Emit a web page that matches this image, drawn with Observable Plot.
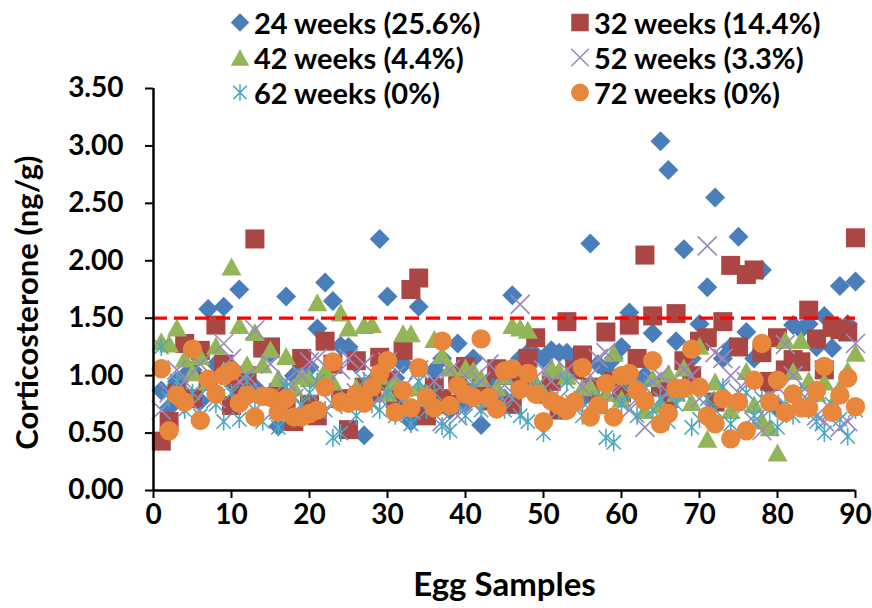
<!DOCTYPE html>
<html><head><meta charset="utf-8">
<script src="https://cdn.jsdelivr.net/npm/d3@7"></script>
<script src="https://cdn.jsdelivr.net/npm/@observablehq/plot@0.6"></script>
<style>
body{margin:0;background:#fff;font-family:Lato,sans-serif;}
#wrap{position:relative;width:872px;height:608px;overflow:hidden;}
#legend{position:absolute;left:0;top:0;width:872px;height:110px;pointer-events:none;}
.item{position:absolute;display:flex;align-items:center;font-weight:700;font-size:29px;color:#000;white-space:nowrap;line-height:1;transform:translateY(-50%);}
.item svg{margin-right:2px;}
</style></head><body><div id="wrap"><div id="legend"></div></div>
<script>
const samples = d3.range(1, 91);
const seriesNames = ["24 weeks (25.6%)", "32 weeks (14.4%)", "42 weeks (4.4%)", "52 weeks (3.3%)", "62 weeks (0%)", "72 weeks (0%)"];
const w24 = [0.87,0.72,0.95,1.00,1.05,0.78,1.58,1.10,1.60,0.95,1.75,1.05,0.90,1.25,1.20,0.56,1.69,1.00,1.08,1.07,1.41,1.81,1.65,1.26,1.25,1.10,0.48,0.95,2.19,1.69,0.98,1.10,0.60,1.60,0.85,1.05,1.15,0.70,1.28,0.75,1.15,0.57,0.95,1.05,0.80,1.70,1.15,1.20,1.18,1.15,1.22,1.20,1.20,1.17,0.80,2.15,1.10,1.05,1.15,1.25,1.55,0.95,1.00,1.37,3.04,2.79,1.30,2.10,1.15,1.45,1.77,2.55,1.15,1.25,2.21,1.38,1.15,1.92,0.90,0.72,1.05,1.44,1.40,1.45,1.25,1.52,1.24,1.78,1.45,1.82];
const w32 = [0.43,0.60,0.85,1.28,0.80,1.22,0.95,1.44,1.10,0.74,0.90,1.00,2.19,1.24,1.25,0.85,0.70,0.60,1.15,0.75,0.65,1.30,1.10,0.80,0.53,1.13,0.90,0.85,1.16,0.95,0.80,1.22,1.75,1.85,0.65,0.90,0.80,0.75,1.00,1.08,0.85,0.90,0.78,1.06,1.00,0.75,0.95,1.15,1.33,0.84,0.95,0.70,1.47,1.05,1.18,0.90,0.75,1.38,0.95,0.85,1.44,1.15,2.05,1.52,0.90,0.80,1.54,1.13,1.00,1.30,1.33,0.77,1.47,1.96,1.25,1.88,1.92,1.20,0.95,1.33,1.05,1.14,1.12,1.57,1.32,1.05,1.42,1.40,1.38,2.20];
const w42 = [1.30,1.28,1.42,1.15,1.03,1.17,0.95,1.26,1.05,1.95,1.44,1.10,1.38,1.10,1.23,0.98,1.17,0.90,1.00,0.98,1.64,1.05,0.95,1.55,1.42,0.90,1.44,1.45,1.00,0.85,0.95,1.37,1.37,0.90,0.85,1.32,1.18,1.07,0.95,1.07,1.05,0.98,0.80,0.90,1.00,1.44,1.42,1.40,0.95,0.85,1.07,1.05,1.00,0.80,0.90,0.91,0.75,0.85,1.20,0.80,1.00,0.88,0.70,0.98,0.75,1.02,0.85,1.07,0.77,1.26,0.45,0.95,0.85,0.70,0.80,1.04,0.75,0.61,0.55,0.33,1.31,1.04,1.31,0.96,0.85,0.95,0.75,0.90,1.05,1.20];
const w52 = [0.70,0.85,1.05,0.95,0.75,1.10,0.90,0.80,1.28,1.15,0.95,1.00,1.40,0.85,1.10,0.70,0.95,0.80,1.00,1.12,1.15,0.90,0.75,1.05,1.15,0.85,1.10,0.95,0.80,1.12,1.00,0.90,0.70,1.05,0.80,0.95,0.60,1.05,0.65,1.00,0.75,0.95,1.10,0.85,1.00,0.80,1.62,1.00,0.90,1.05,0.95,0.80,1.05,0.75,0.90,1.00,1.15,1.20,0.85,0.95,0.70,0.80,0.55,0.95,1.00,0.85,0.90,1.05,1.00,0.80,2.13,1.20,1.15,1.00,0.85,0.95,0.60,0.52,0.75,0.90,1.27,1.00,0.75,0.85,0.65,0.60,0.70,0.55,0.60,1.28];
const w62 = [1.25,0.80,0.95,0.70,0.85,0.65,0.90,0.75,0.60,0.85,0.62,0.95,0.70,0.60,0.80,0.55,0.90,0.65,0.75,0.85,0.95,0.70,0.46,0.50,0.80,0.65,0.95,0.75,0.70,0.85,0.65,0.80,0.58,0.95,0.70,0.85,0.56,0.52,0.75,0.65,0.90,0.70,0.80,0.75,0.70,0.85,0.65,0.60,0.90,0.50,0.80,0.70,0.95,0.75,0.65,0.70,0.80,0.46,0.42,0.75,0.85,0.65,0.90,0.70,0.80,0.60,0.75,0.85,0.55,0.62,0.80,0.70,0.90,0.58,0.75,0.85,0.65,0.80,0.70,0.55,0.75,0.65,0.85,0.70,0.60,0.50,0.75,0.62,0.47,0.70];
const w72 = [1.06,0.52,0.83,0.77,1.23,0.61,0.97,0.84,1.00,1.04,0.76,0.83,0.64,0.82,0.81,0.68,0.80,0.64,0.64,0.67,0.70,0.90,1.12,0.77,0.76,0.84,0.76,0.90,1.02,1.13,0.68,0.87,0.72,1.07,0.81,0.72,1.30,0.74,0.91,0.84,0.81,1.32,0.81,0.71,1.04,1.06,0.88,1.02,0.84,0.60,0.78,0.74,0.70,0.77,1.07,0.64,0.74,0.93,0.64,1.00,1.02,0.87,0.78,1.13,0.58,0.67,0.89,0.89,1.23,0.90,0.65,0.58,0.80,0.45,0.77,0.52,0.96,1.28,0.77,0.96,0.68,0.84,0.72,0.72,0.87,1.08,0.68,0.83,0.98,0.73];
const threshold = 1.5;
const xTicks = d3.range(0, 91, 10);
const yTicks = [0, 0.5, 1, 1.5, 2, 2.5, 3, 3.5];

function mk(fn){ return {draw(c, size){ fn(c, Math.sqrt(size / Math.PI)); }}; }
const diamondSym = mk((c,h)=>{c.moveTo(0,-h);c.lineTo(h,0);c.lineTo(0,h);c.lineTo(-h,0);c.closePath();});
const squareSym = mk((c,h)=>{c.moveTo(-h,-h);c.lineTo(h,-h);c.lineTo(h,h);c.lineTo(-h,h);c.closePath();});
const triSym = mk((c,h)=>{c.moveTo(0,-0.9*h);c.lineTo(h,0.9*h);c.lineTo(-h,0.9*h);c.closePath();});
const timesSym = mk((c,h)=>{c.moveTo(-h,-h);c.lineTo(h,h);c.moveTo(-h,h);c.lineTo(h,-h);});
const starSym = mk((c,h)=>{const d=h*0.8;c.moveTo(-d,-d);c.lineTo(d,d);c.moveTo(-d,d);c.lineTo(d,-d);c.moveTo(0,-h);c.lineTo(0,h);});
const circleSym = mk((c,h)=>{c.moveTo(h,0);c.arc(0,0,h,0,2*Math.PI);});

const values = [w24, w32, w42, w52, w62, w72];
const styles = [
  {color:"#4A7EBB", sym:diamondSym, r:10, filled:true},
  {color:"#AA4643", sym:squareSym, r:9.5, filled:true},
  {color:"#93B558", sym:triSym, r:10, filled:true},
  {color:"#9A88BE", sym:timesSym, r:9.5, filled:false},
  {color:"#4DA7C1", sym:starSym, r:9, filled:false},
  {color:"#E8873C", sym:circleSym, r:9.7, filled:true}
];

const dotMarks = values.map((vals, k) => {
  const rows = vals.map((v, i) => ({sample: samples[i], value: v}));
  const st = styles[k];
  return Plot.dot(rows, {x:"sample", y:"value", symbol: st.sym, r: st.r,
    fill: st.filled ? st.color : "none", stroke: st.filled ? "none" : st.color,
    strokeWidth: st.filled ? 0 : 1.6});
});

const chart = Plot.plot({
  width: 872, height: 608,
  marginLeft: 153, marginRight: 17, marginTop: 88, marginBottom: 118,
  style: {fontFamily: "Lato, sans-serif", fontSize: "28px", fontWeight: "700", color: "#000", background: "#fff", overflow: "visible"},
  x: {domain: [0, 90]},
  y: {domain: [0, 3.5]},
  marks: [
    Plot.axisX({ticks: xTicks, tickSize: 8, tickPadding: 6, tickFormat: d => String(d), label: null, stroke: "#000", strokeWidth: 2}),
    Plot.axisY({ticks: yTicks, tickSize: 8, tickPadding: 22, tickFormat: d3.format(".2f"), label: null, stroke: "#000", strokeWidth: 2}),
    ...dotMarks,
    Plot.ruleY([threshold], {stroke: "#FF0000", strokeWidth: 3.2, strokeDasharray: "14,7"}),
    Plot.ruleX([0], {stroke: "#000", strokeWidth: 2.5}),
    Plot.ruleY([0], {stroke: "#000", strokeWidth: 2.5}),
    Plot.text(["Egg Samples"], {frameAnchor: "bottom", textAnchor: "middle", lineAnchor: "middle", dy: 95, fontSize: 33, fontWeight: 700, fill: "#000"}),
    Plot.text(["Corticosterone (ng/g)"], {frameAnchor: "left", textAnchor: "middle", lineAnchor: "middle", dx: -125, dy: 13, rotate: -90, fontSize: 31, fontWeight: 700, fill: "#000"})
  ]
});
document.getElementById("wrap").appendChild(chart);

// legend
const legend = document.getElementById("legend");
const legendPos = [[228, 22], [568, 22], [228, 57], [568, 57], [228, 92], [568, 92]];
seriesNames.forEach((name, k) => {
  const st = styles[k];
  const d = document.createElement("div");
  d.className = "item";
  d.style.left = legendPos[k][0] + "px";
  d.style.top = legendPos[k][1] + "px";
  const path = d3.symbol(st.sym, Math.PI * st.r * st.r * 0.85)();
  d.innerHTML = `<svg width="24" height="24" viewBox="-12 -12 24 24"><path d="${path}" fill="${st.filled ? st.color : "none"}" stroke="${st.filled ? "none" : st.color}" stroke-width="1.5"/></svg><span>${name}</span>`;
  legend.appendChild(d);
});
</script>
</body></html>
